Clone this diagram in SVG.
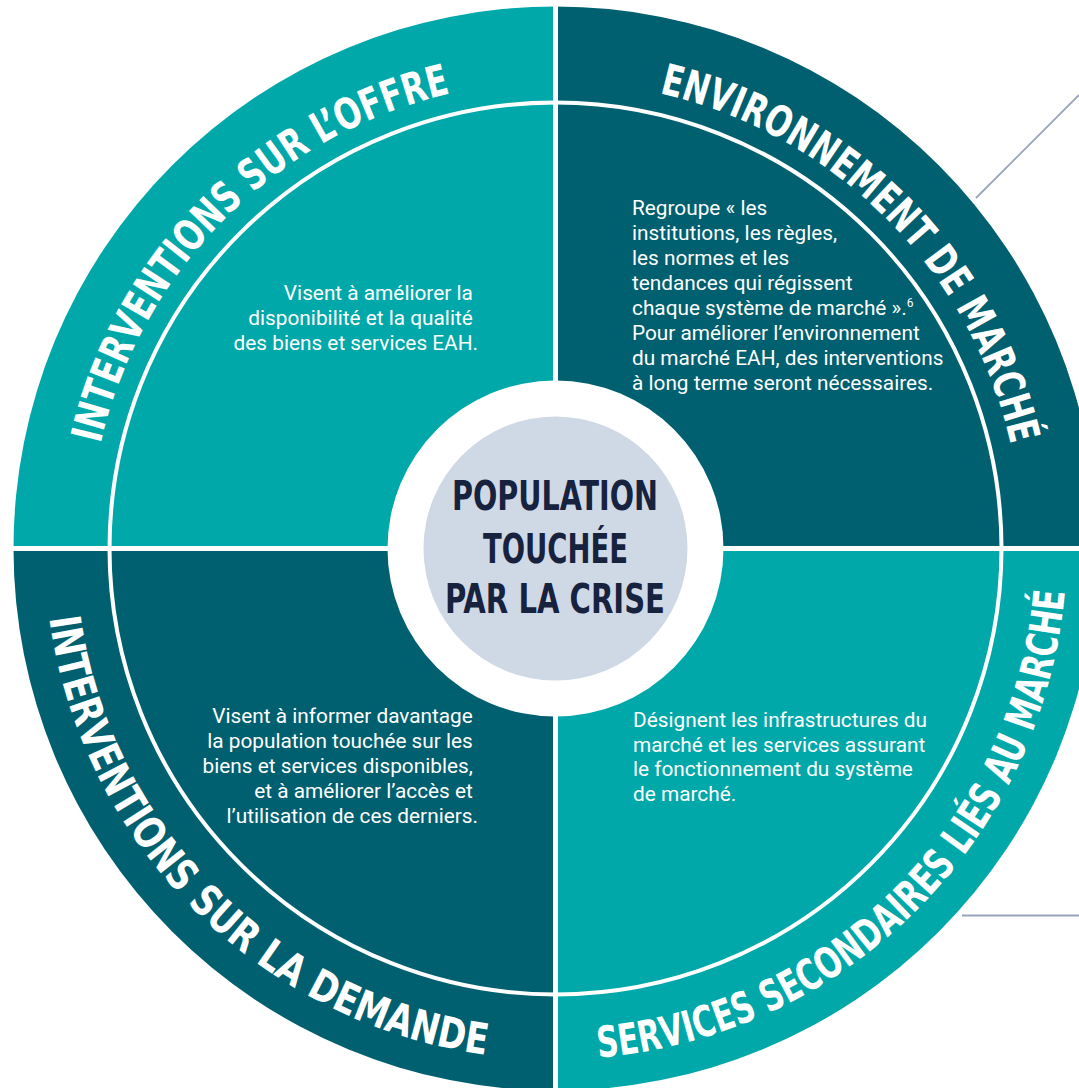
<svg xmlns="http://www.w3.org/2000/svg" xmlns:xlink="http://www.w3.org/1999/xlink" width="1079" height="1088" viewBox="0 0 1079 1088">
  <style>
    .teal { fill: #01A8A9; }
    .dark { fill: #00606F; }
    .ring { font-family: 'DejaVu Sans Condensed', 'DejaVu Sans', sans-serif; font-stretch: condensed; font-weight: bold; font-size: 43px; fill: #FFFFFF; }
    .body { font-family: Roboto, 'Liberation Sans', sans-serif; font-size: 20.8px; fill: #FFFFFF; }
    .center { font-family: 'DejaVu Sans Condensed', 'DejaVu Sans', sans-serif; font-stretch: condensed; font-weight: bold; font-size: 41px; fill: #17223E; text-anchor: middle; }
    .sep { stroke: #FFFFFF; stroke-width: 5; }
    .leader { stroke: #97A5BE; stroke-width: 1.8; fill: none; }
  </style>
  <defs>
    <path id="arcTL" d="M88.5,548.5 A467,467 0 0 1 555.5,81.5"/>
    <path id="arcTR" d="M555.5,81.5 A467,467 0 0 1 1022.5,548.5"/>
    <path id="arcBL" d="M44.5,548.5 A511,511 0 0 0 555.5,1059.5"/>
    <path id="arcBR" d="M555.5,1059.5 A511,511 0 0 0 1066.5,548.5"/>
  </defs>
  <rect width="1079" height="1088" fill="#FFFFFF"/>

  <g id="connectors">
    <line class="leader" x1="976" y1="198" x2="1079" y2="95"/>
    <line class="leader" x1="962" y1="915.5" x2="1079" y2="915.5"/>
  </g>

  <g id="q-offre">
    <path class="teal" d="M555.5,548.5 L13.5,548.5 A542,542 0 0 1 555.5,6.5 Z"/>
    <text class="ring"><textPath xlink:href="#arcTL" href="#arcTL" startOffset="50%" text-anchor="middle" textLength="522" lengthAdjust="spacingAndGlyphs">INTERVENTIONS SUR L’OFFRE</textPath></text>
    <text class="body" text-anchor="end">
      <tspan x="478" y="300">Visent à améliorer la</tspan>
      <tspan x="478" y="325">disponibilité et la qualité</tspan>
      <tspan x="478" y="350">des biens et services EAH.</tspan>
    </text>
  </g>

  <g id="q-environnement">
    <path class="dark" d="M555.5,548.5 L555.5,6.5 A542,542 0 0 1 1097.5,548.5 Z"/>
    <text class="ring"><textPath xlink:href="#arcTR" href="#arcTR" startOffset="50%" text-anchor="middle" textLength="524" lengthAdjust="spacingAndGlyphs">ENVIRONNEMENT DE MARCHÉ</textPath></text>
    <text class="body">
      <tspan x="632" y="215">Regroupe « les</tspan>
      <tspan x="632" y="240">institutions, les règles,</tspan>
      <tspan x="632" y="265">les normes et les</tspan>
      <tspan x="632" y="290">tendances qui régissent</tspan>
      <tspan x="632" y="315">chaque système de marché ».<tspan font-size="12" dy="-8">6</tspan></tspan>
      <tspan x="632" y="340">Pour améliorer l’environnement</tspan>
      <tspan x="632" y="365">du marché EAH, des interventions</tspan>
      <tspan x="632" y="390">à long terme seront nécessaires.</tspan>
    </text>
  </g>

  <g id="q-demande">
    <path class="dark" d="M555.5,548.5 L555.5,1090.5 A542,542 0 0 1 13.5,548.5 Z"/>
    <text class="ring"><textPath xlink:href="#arcBL" href="#arcBL" startOffset="50%" text-anchor="middle" textLength="663" lengthAdjust="spacingAndGlyphs">INTERVENTIONS SUR LA DEMANDE</textPath></text>
    <text class="body" text-anchor="end">
      <tspan x="478" y="723">Visent à informer davantage</tspan>
      <tspan x="478" y="748">la population touchée sur les</tspan>
      <tspan x="478" y="773">biens et services disponibles,</tspan>
      <tspan x="478" y="798">et à améliorer l’accès et</tspan>
      <tspan x="478" y="823">l’utilisation de ces derniers.</tspan>
    </text>
  </g>

  <g id="q-services">
    <path class="teal" d="M555.5,548.5 L1097.5,548.5 A542,542 0 0 1 555.5,1090.5 Z"/>
    <text class="ring"><textPath xlink:href="#arcBR" href="#arcBR" startOffset="50%" text-anchor="middle" textLength="717" lengthAdjust="spacingAndGlyphs">SERVICES SECONDAIRES LIÉS AU MARCHÉ</textPath></text>
    <text class="body">
      <tspan x="633" y="727">Désignent les infrastructures du</tspan>
      <tspan x="633" y="751.5">marché et les services assurant</tspan>
      <tspan x="633" y="776">le fonctionnement du système</tspan>
      <tspan x="633" y="800.5">de marché.</tspan>
    </text>
  </g>

  <g id="separators">
    <circle cx="555.5" cy="548.5" r="446" fill="none" stroke="#FFFFFF" stroke-width="4"/>
    <line class="sep" x1="555.5" y1="0" x2="555.5" y2="1088"/>
    <line class="sep" x1="0" y1="548.5" x2="1079" y2="548.5"/>
  </g>

  <g id="center">
    <circle cx="555.5" cy="548.5" r="168" fill="#FFFFFF"/>
    <circle cx="555.5" cy="548.5" r="132" fill="#CFD9E5"/>
    <text class="center" x="555" y="510" textLength="206" lengthAdjust="spacingAndGlyphs">POPULATION</text>
    <text class="center" x="555.5" y="563" textLength="145" lengthAdjust="spacingAndGlyphs">TOUCHÉE</text>
    <text class="center" x="555" y="613" textLength="220" lengthAdjust="spacingAndGlyphs">PAR LA CRISE</text>
  </g>
</svg>
